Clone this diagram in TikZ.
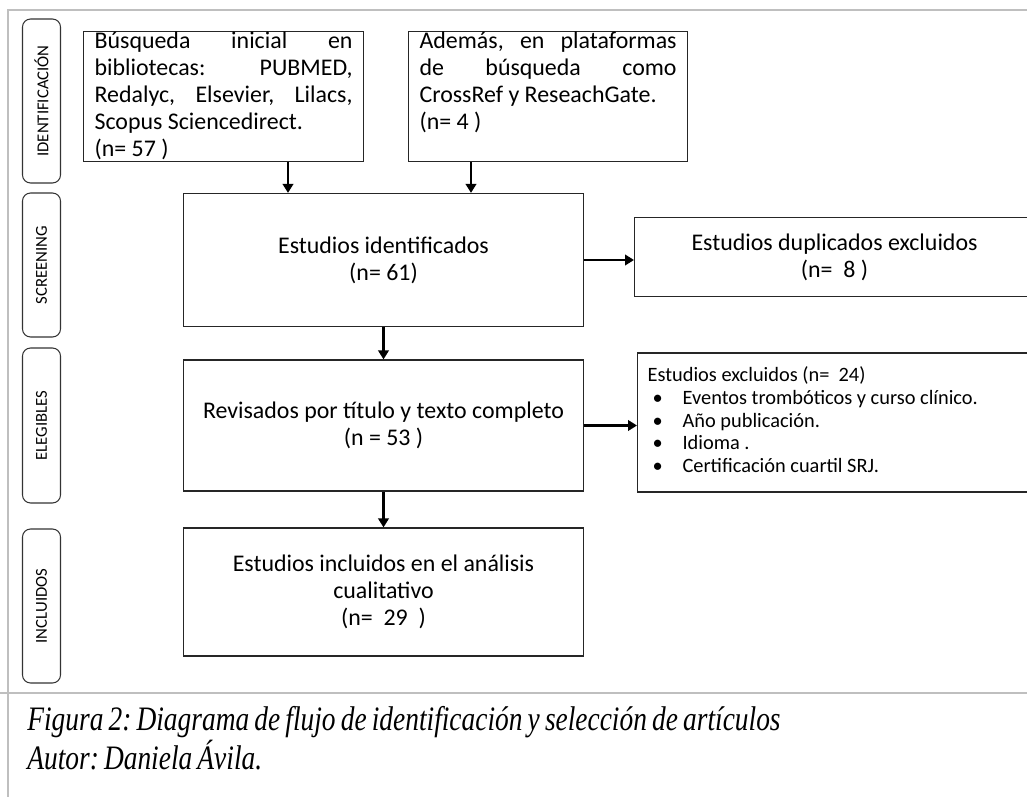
\documentclass[tikz,border=0pt]{standalone}
\usepackage{fontspec}
\setmainfont{Carlito}
\newfontfamily\capfont[FakeStretch=0.8]{Liberation Serif}
\usetikzlibrary{arrows.meta,positioning}

\begin{document}
\begin{tikzpicture}[x=0.02cm, y=-0.02cm,
  box/.style={draw=black!85, line width=0.7pt, inner sep=0pt, font=\fontsize{13.6pt}{15.4pt}\selectfont, align=center},
  side/.style={draw=black!80, line width=0.6pt, rounded corners=0.16cm, minimum width=0.76cm, font=\fontsize{9.5pt}{10pt}\selectfont},
  arr/.style={-{Triangle[width=0.21cm,length=0.18cm]}, line width=1.6pt},
  frame/.style={draw=black!25, line width=1.6pt}]
\useasboundingbox (0,0) rectangle (1027,797);
% marco
\draw[frame] (8,797) -- (8,10) -- (1030,10);
\draw[frame] (0,693) -- (1030,693);
% etapas
\node[side, minimum height=3.28cm] (ident) at (41.5,101) {\rotatebox{90}{IDENTIFICACIÓN}};
\node[side, minimum height=2.88cm] (scr) at (41.5,265) {\rotatebox{90}{SCREENING}};
\node[side, minimum height=3.1cm] (eleg) at (41.5,425.5) {\rotatebox{90}{ELEGIBLES}};
\node[side, minimum height=3.08cm] (incl) at (41.5,606) {\rotatebox{90}{INCLUIDOS}};
% cajas
\node[box, anchor=north west, inner xsep=0.22cm] (busq) at (83,31)
  {\parbox[t][2.6cm][t]{5.16cm}{\raggedright
   Búsqueda\hfill inicial\hfill en\\
   bibliotecas:\hfill PUBMED,\\
   Redalyc,\hfill Elsevier,\hfill Lilacs,\\
   Scopus Sciencedirect.\\
   (n= 57 )}};
\node[box, anchor=north west, inner xsep=0.22cm] (plat) at (408,31)
  {\parbox[t][2.6cm][t]{5.14cm}{\raggedright
   Además,\hfill en\hfill plataformas\\
   de\hfill búsqueda\hfill como\\
   CrossRef y ReseachGate.\\
   (n= 4 )}};
\node[box, minimum width=8cm, minimum height=2.66cm] (ident1) at (383.5,260) {Estudios identificados\\(n= 61)};
\node[box, minimum width=8cm, minimum height=1.58cm, anchor=west] (dupl) at (634,257) {Estudios duplicados excluidos\\(n=\ \ 8 )};
\node[box, minimum width=8cm, minimum height=2.78cm, anchor=west, font=\fontsize{11.6pt}{12.9pt}\selectfont] (excl) at (637,422.5)
  {\makebox[7.6cm][l]{\begin{tabular}{@{\hspace{0.1cm}}p{0.6cm}@{}l@{}}
   \multicolumn{2}{@{}l@{}}{Estudios excluidos (n=\ \ 24)}\\
   \textbullet & Eventos trombóticos y curso clínico.\\
   \textbullet & Año publicación.\\
   \textbullet & Idioma .\\
   \textbullet & Certificación cuartil SRJ.
   \end{tabular}}};
\node[box, minimum width=8cm, minimum height=2.62cm] (rev) at (383.5,425.5) {Revisados por título y texto completo\\(n = 53 )};
\node[box, minimum width=8cm, minimum height=2.56cm] (inc) at (383.5,592) {Estudios incluidos en el análisis\\cualitativo\\(n=\ \ 29\ \ )};
% flechas
\coordinate (c1) at (288,0);
\coordinate (c2) at (471,0);
\draw[arr] (busq.south -| c1) -- (ident1.north -| c1);
\draw[arr] (plat.south -| c2) -- (ident1.north -| c2);
\draw[arr] (ident1.east) -- (dupl.west |- ident1.east);
\draw[arr] (ident1) -- (rev);
\draw[arr] (rev.east) -- (excl.west |- rev.east);
\draw[arr] (rev) -- (inc);
% pie de figura
\node[anchor=north west, align=left, font=\capfont\itshape\fontsize{19.5pt}{18.7pt}\selectfont, inner sep=0pt] (pie) at (27,706)
  {\frenchspacing\spaceskip=0.15em plus 0.05em\relax Figura 2: Diagrama de flujo de identificación y selección de artículos\\
   \frenchspacing\spaceskip=0.15em plus 0.05em\relax Autor: Daniela Ávila.};
\end{tikzpicture}
\end{document}
